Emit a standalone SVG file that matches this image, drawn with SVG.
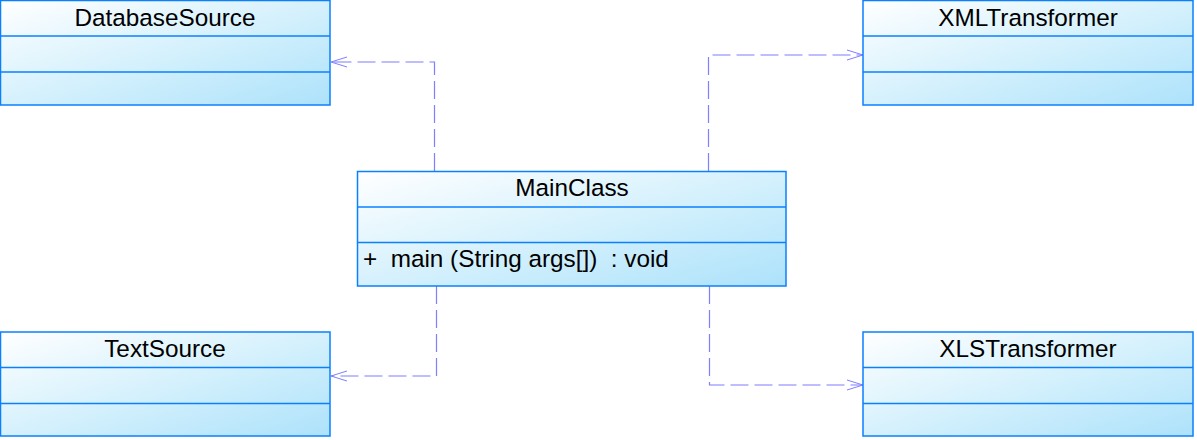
<svg xmlns="http://www.w3.org/2000/svg" width="1197" height="440" viewBox="0 0 1197 440">
<defs>
<linearGradient id="g" x1="0" y1="0" x2="1" y2="1">
<stop offset="0" stop-color="#ffffff"/>
<stop offset="0.6" stop-color="#cdeefc"/>
<stop offset="1" stop-color="#ade2fb"/>
</linearGradient>
<marker id="arr" markerWidth="20" markerHeight="14" refX="17" refY="6" orient="auto" markerUnits="userSpaceOnUse">
<path d="M1,1 L17,6 L1,11" fill="none" stroke="#7f7fff" stroke-width="1"/>
</marker>
</defs>
<style>
.box{fill:url(#g);stroke:#0a80ff;stroke-width:1.5}
.div{stroke:#0a80ff;stroke-width:1.5}
.t{font-family:"Liberation Sans",Arial,sans-serif;font-size:24.3px;fill:#000;white-space:pre}
.c{text-anchor:middle}
.con{fill:none;stroke:#7f7fff;stroke-width:1.2;stroke-dasharray:18,6}
</style>
<rect width="1197" height="440" fill="#fff"/>
<g id="connectors">
<path class="con" d="M434.5,171 V62 H331" marker-end="url(#arr)"/>
<path class="con" d="M708.5,171 V55 H863" marker-end="url(#arr)"/>
<path class="con" d="M436.5,286 V376 H331" marker-end="url(#arr)"/>
<path class="con" d="M709.5,286 V385 H863" marker-end="url(#arr)"/>
</g>
<g id="DatabaseSource">
<rect class="box" x="0.5" y="0.5" width="329.5" height="104.5"/>
<line class="div" x1="0" y1="36" x2="330" y2="36"/>
<line class="div" x1="0" y1="72" x2="330" y2="72"/>
<text class="t c" x="165" y="26">DatabaseSource</text>
</g>
<g id="XMLTransformer">
<rect class="box" x="863" y="0.5" width="330" height="104.5"/>
<line class="div" x1="863" y1="36" x2="1193" y2="36"/>
<line class="div" x1="863" y1="72" x2="1193" y2="72"/>
<text class="t c" x="1028" y="26">XMLTransformer</text>
</g>
<g id="MainClass">
<rect class="box" x="357.5" y="171.5" width="428.5" height="114.5"/>
<line class="div" x1="357" y1="207" x2="786" y2="207"/>
<line class="div" x1="357" y1="242.5" x2="786" y2="242.5"/>
<text class="t c" x="572" y="195.5">MainClass</text>
<text class="t" x="363" y="267" xml:space="preserve">+  main (String args[])  : void</text>
</g>
<g id="TextSource">
<rect class="box" x="0.5" y="332" width="329.5" height="104"/>
<line class="div" x1="0" y1="367.5" x2="330" y2="367.5"/>
<line class="div" x1="0" y1="403.5" x2="330" y2="403.5"/>
<text class="t c" x="165" y="357">TextSource</text>
</g>
<g id="XLSTransformer">
<rect class="box" x="863" y="332" width="330" height="104"/>
<line class="div" x1="863" y1="367.5" x2="1193" y2="367.5"/>
<line class="div" x1="863" y1="403.5" x2="1193" y2="403.5"/>
<text class="t c" x="1028" y="357">XLSTransformer</text>
</g>
</svg>
